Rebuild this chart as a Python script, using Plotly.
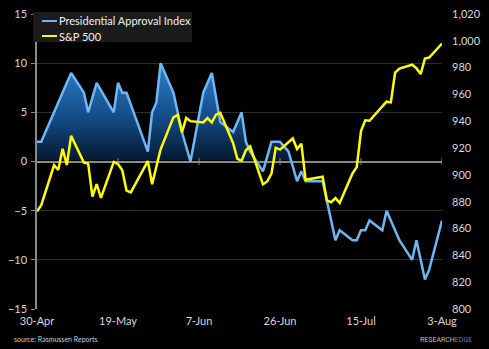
import plotly.graph_objects as go

# ---- data ----
approval_dates = [
    "2009-04-30", "2009-05-01", "2009-05-08", "2009-05-11", "2009-05-12", "2009-05-14",
    "2009-05-18", "2009-05-19", "2009-05-20", "2009-05-21", "2009-05-26", "2009-05-27",
    "2009-05-28", "2009-05-29", "2009-06-01", "2009-06-03", "2009-06-05", "2009-06-08",
    "2009-06-10", "2009-06-12", "2009-06-15", "2009-06-17", "2009-06-18", "2009-06-19",
    "2009-06-22", "2009-06-24", "2009-06-26", "2009-06-27", "2009-06-28", "2009-06-30",
    "2009-07-01", "2009-07-02", "2009-07-06", "2009-07-09", "2009-07-10", "2009-07-13",
    "2009-07-14", "2009-07-15", "2009-07-16", "2009-07-17", "2009-07-20", "2009-07-21",
    "2009-07-24", "2009-07-27", "2009-07-28", "2009-07-30", "2009-07-31", "2009-08-03",
]
approval_values = [
    2, 2, 9, 7, 5, 8,
    5, 8, 7, 7, 1, 5,
    6, 10, 7, 3, 0, 7,
    9, 4, 3, 5, 2, 1,
    -1, 2, 2, 1.5, 1, -2,
    -1, -2, -2, -8, -7, -8,
    -8, -7, -7, -6, -7, -5,
    -8, -10, -8, -12, -11, -6,
]

sp_dates = [
    "2009-04-30", "2009-05-01", "2009-05-04", "2009-05-05", "2009-05-06", "2009-05-07",
    "2009-05-08", "2009-05-11", "2009-05-12", "2009-05-13", "2009-05-14", "2009-05-15",
    "2009-05-18", "2009-05-19", "2009-05-20", "2009-05-21", "2009-05-22", "2009-05-26",
    "2009-05-27", "2009-05-28", "2009-05-29", "2009-06-01", "2009-06-02", "2009-06-03",
    "2009-06-04", "2009-06-05", "2009-06-08", "2009-06-09", "2009-06-10", "2009-06-11",
    "2009-06-12", "2009-06-15", "2009-06-16", "2009-06-17", "2009-06-18", "2009-06-19",
    "2009-06-22", "2009-06-23", "2009-06-24", "2009-06-25", "2009-06-26", "2009-06-29",
    "2009-06-30", "2009-07-01", "2009-07-02", "2009-07-06", "2009-07-07", "2009-07-08",
    "2009-07-09", "2009-07-10", "2009-07-13", "2009-07-14", "2009-07-15", "2009-07-16",
    "2009-07-17", "2009-07-20", "2009-07-21", "2009-07-22", "2009-07-23", "2009-07-24",
    "2009-07-27", "2009-07-28", "2009-07-29", "2009-07-30", "2009-07-31", "2009-08-03",
]
sp_values = [
    872.8, 877.5, 907.2, 903.8, 919.5, 907.4,
    929.2, 909.2, 908.4, 883.9, 893.1, 882.9,
    909.7, 908.1, 903.5, 888.3, 887.0, 910.3,
    893.1, 906.8, 919.1, 942.9, 944.7, 931.8,
    942.5, 940.1, 939.1, 942.4, 939.2, 944.9,
    946.2, 923.7, 912.0, 910.7, 918.4, 921.2,
    893.0, 895.1, 900.9, 920.3, 918.9, 927.2,
    919.3, 923.3, 896.4, 898.7, 881.0, 879.6,
    882.7, 879.1, 901.1, 905.8, 932.7, 940.7,
    940.4, 951.1, 954.6, 954.1, 976.3, 979.3,
    982.2, 979.6, 975.2, 986.8, 987.5, 998.0,
]

x_tick_dates = ["2009-04-30", "2009-05-19", "2009-06-07", "2009-06-26", "2009-07-15", "2009-08-03"]
x_tick_labels = ["30-Apr", "19-May", "7-Jun", "26-Jun", "15-Jul", "3-Aug"]
left_ticks = [-15, -10, -5, 0, 5, 10, 15]
right_ticks = list(range(800, 1021, 20))

series_names = ["Presidential Approval Index", "S&P 500"]
series_colors = ["#6db7f2", "#ffff00"]

FONT = "Lato"
TXT = "#d8d8d8"

fig = go.Figure()

fig.add_trace(go.Scatter(
    x=approval_dates, y=approval_values, name=series_names[0],
    mode="lines", line=dict(color=series_colors[0], width=2.5),
    fill="tozeroy",
    fillgradient=dict(type="vertical", start=0, stop=10,
                      colorscale=[[0, "rgba(0,0,0,0)"], [0.02, "#061a33"],
                                  [0.45, "#134c86"], [1, "#2f7fcf"]]),
    showlegend=False, yaxis="y",
))

fig.add_trace(go.Scatter(
    x=sp_dates, y=sp_values, name=series_names[1],
    mode="lines", line=dict(color=series_colors[1], width=2.5),
    showlegend=False, yaxis="y2",
))

# small tick marks on the zero line (category axis crossing)
fig.add_trace(go.Scatter(
    x=x_tick_dates[1:], y=[0] * (len(x_tick_dates) - 1), mode="markers",
    marker=dict(symbol="line-ns-open", size=5, color="#8a8a8a",
                line=dict(color="#8a8a8a", width=1)),
    hoverinfo="skip", showlegend=False, yaxis="y",
))

# custom legend
L, R, T, B = 37, 442, 14, 309
W, H = R - L, B - T
def px(x):
    return (x - L) / W
def py(y):
    return (B - y) / H

fig.add_shape(type="rect", xref="paper", yref="paper",
              x0=px(33), x1=px(192), y0=py(42), y1=py(12),
              fillcolor="#1b1b1b", line=dict(width=0), layer="above")
for i, (nm, col) in enumerate(zip(series_names, series_colors)):
    yy = 21 + i * 15
    fig.add_shape(type="line", xref="paper", yref="paper",
                  x0=px(42), x1=px(57), y0=py(yy), y1=py(yy),
                  line=dict(color=col, width=2), layer="above")
    fig.add_annotation(text=nm, xref="paper", yref="paper", x=px(57), y=py(yy),
                       xanchor="left", yanchor="middle", showarrow=False,
                       font=dict(family=FONT, size=11, color="#f0f0f0"))

fig.add_annotation(text="source: Rasmussen Reports", xref="paper", yref="paper",
                   x=px(12), y=py(339), xanchor="left", yanchor="middle", showarrow=False,
                   font=dict(family=FONT, size=7, color="#cfcfcf"))
fig.add_annotation(text="RESEARCH<span style='color:#3c82d8'>EDGE</span>", xref="paper", yref="paper",
                   x=px(474), y=py(340), xanchor="right", yanchor="middle", showarrow=False,
                   font=dict(family="Liberation Sans Narrow, Roboto", size=7, color="#bfbfbf"))

fig.update_layout(
    width=489, height=349,
    margin=dict(l=L, r=489 - R, t=T, b=349 - B, autoexpand=False),
    paper_bgcolor="#000000", plot_bgcolor="#000000",
    font=dict(family=FONT, size=11, color=TXT),
    showlegend=False,
    xaxis=dict(
        type="date", range=[x_tick_dates[0], x_tick_dates[-1]],
        tickvals=x_tick_dates, ticktext=x_tick_labels, automargin=False,
        showgrid=False, showline=False, zeroline=False, ticks="",
        ticklabelstandoff=4, tickfont=dict(size=11, color=TXT),
    ),
    yaxis=dict(
        range=[-15, 15], tickvals=left_ticks, automargin=False,
        showgrid=True, gridcolor="#2e2e2e", gridwidth=1,
        zeroline=True, zerolinecolor="#8a8a8a", zerolinewidth=1.5,
        showline=True, linecolor="#8a8a8a", linewidth=1.5,
        ticks="outside", ticklen=4, tickcolor="#8a8a8a",
        ticklabelstandoff=2, tickfont=dict(size=11, color=TXT),
    ),
    yaxis2=dict(
        range=[800, 1020], tickvals=right_ticks, tickformat=",", automargin=False,
        overlaying="y", side="right", showgrid=False, zeroline=False, showline=False,
        ticks="", ticklabelstandoff=9, tickfont=dict(size=11, color=TXT),
    ),
)

fig.write_html("out.html")
